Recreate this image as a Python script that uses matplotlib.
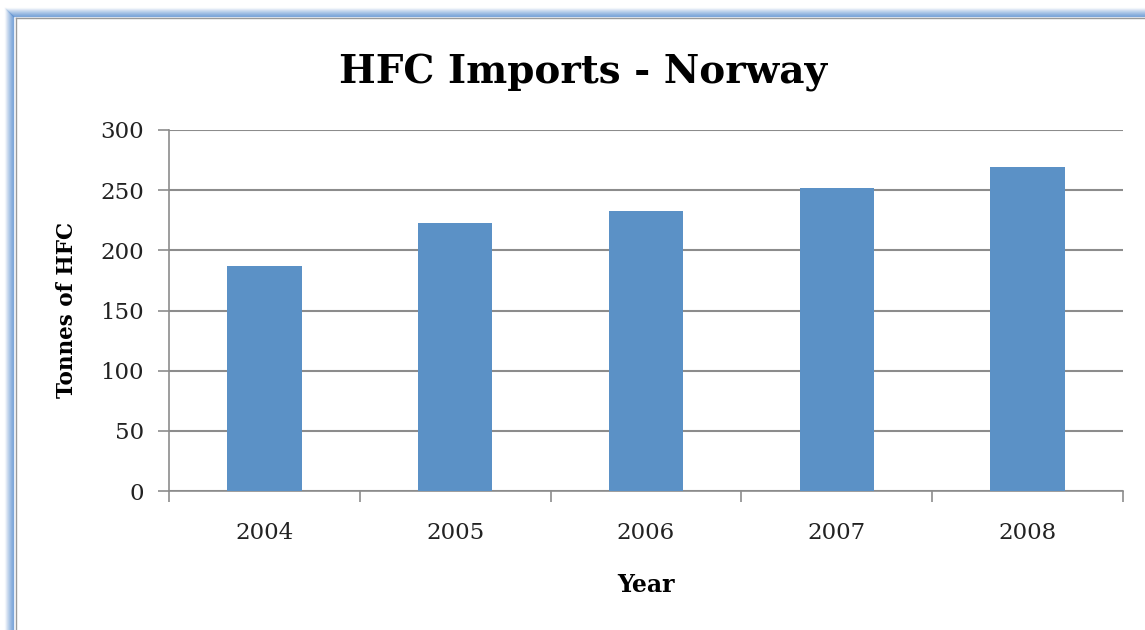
import numpy as np
import matplotlib.pyplot as plt
from matplotlib.lines import Line2D

years = ['2004', '2005', '2006', '2007', '2008']
tonnes = [187, 223, 233, 252, 269]
yticks = [0, 50, 100, 150, 200, 250, 300]

W, H = 1145, 630
fig = plt.figure(figsize=(W / 100, H / 100), dpi=100)
plt.rcParams['font.family'] = 'DejaVu Serif'

# frame with a soft blue shadow on top and left
for i, a in enumerate(np.linspace(0.05, 0.75, 9)):
    y = 1 - (8 + i) / H
    x = (5 + i) / W
    fig.add_artist(Line2D([x, 1], [y, y], color='#5b8fd0', alpha=a, lw=1.0))
    fig.add_artist(Line2D([x, x], [0, y], color='#5b8fd0', alpha=a, lw=1.0))
fig.add_artist(Line2D([16 / W, 1], [1 - 18 / H, 1 - 18 / H], color='#9a9a9a', lw=1.0))
fig.add_artist(Line2D([16 / W, 16 / W], [0, 1 - 18 / H], color='#9a9a9a', lw=1.0))

ax = fig.add_axes([169 / W, 1 - 491 / H, (1123 - 169) / W, (491 - 130) / H])
x = np.arange(len(years))
ax.bar(x, tonnes, width=0.39, color='#5b91c6', zorder=3)

ax.set_xlim(-0.5, len(years) - 0.5)
ax.set_ylim(0, 300)
ax.set_yticks(yticks)
ax.set_xticks(x)
ax.set_xticklabels(years)
ax.set_xticks(np.arange(-0.5, len(years)), minor=True)
ax.yaxis.grid(True, color='#8c8c8c', lw=1.5, zorder=0)
ax.tick_params(axis='x', which='major', length=0, pad=22, labelsize=16.5, colors='#222222')
ax.tick_params(axis='x', which='minor', length=8, width=1.2, color='#8c8c8c', direction='out')
ax.tick_params(axis='y', length=8, width=1.2, color='#8c8c8c', pad=10, labelsize=16.5, labelcolor='#222222')
for s in ['top', 'right']:
    ax.spines[s].set_visible(False)
for s in ['left', 'bottom']:
    ax.spines[s].set_color('#8c8c8c')
    ax.spines[s].set_linewidth(1.2)

fig.text(583 / W, 1 - 73 / H, 'HFC Imports - Norway', ha='center', va='center',
         fontsize=28, fontweight='bold')
fig.text(67 / W, 1 - 310 / H, 'Tonnes of HFC', ha='center', va='center',
         rotation=90, fontsize=15.5, fontweight='bold')
fig.text(646 / W, 1 - 585 / H, 'Year', ha='center', va='center',
         fontsize=17, fontweight='bold')

fig.savefig('out.png', dpi=100)
